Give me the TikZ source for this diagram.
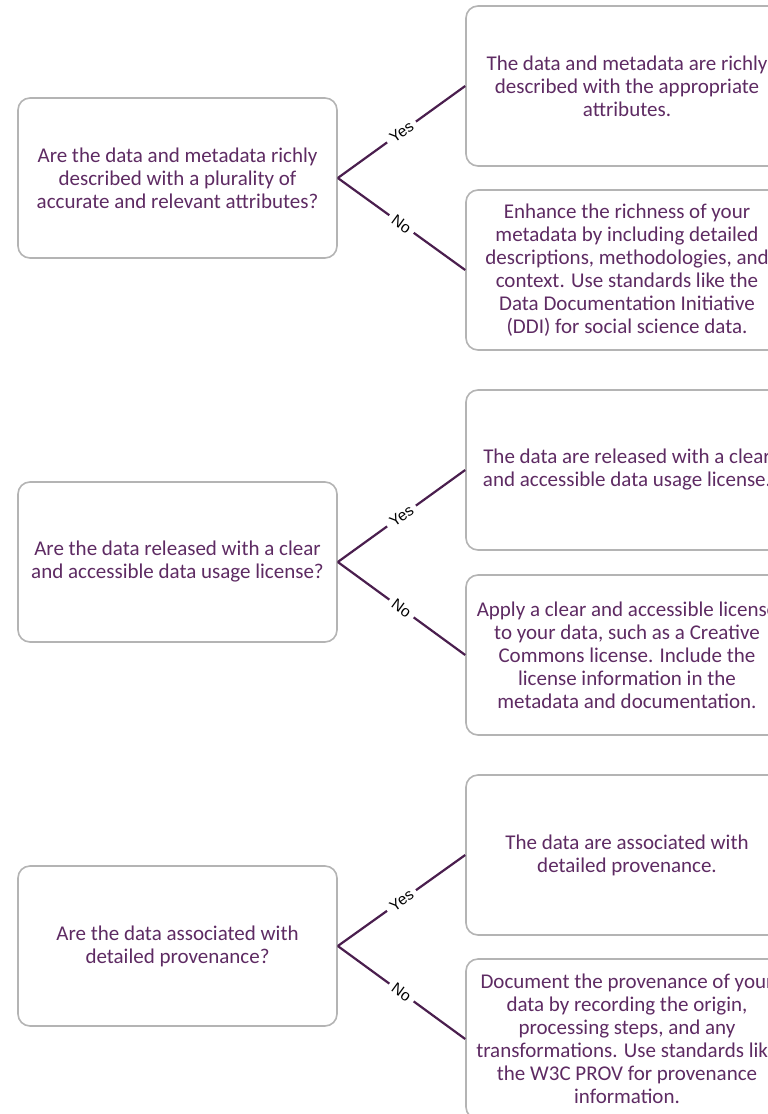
\documentclass[tikz,border=0pt]{standalone}
\usepackage{fontspec}
\setmainfont{Carlito}
\newfontfamily\lblfont{Liberation Sans}
\definecolor{txtpurple}{HTML}{5E2B63}
\definecolor{linepurple}{HTML}{4A1E4E}
\definecolor{boxgray}{HTML}{B4B4B4}
\tikzset{
  box/.style={draw=boxgray, line width=1.6pt, rounded corners=12pt, fill=white,
    text=txtpurple, align=center, inner sep=0pt,
    font=\fontsize{21}{23}\selectfont},
  qbox/.style={box, minimum width=319pt, minimum height=160pt},
  abox/.style={box, minimum width=322pt, minimum height=160pt},
  conn/.style={draw=linepurple, line width=2.2pt},
  lbl/.style={fill=white, text=black, inner xsep=5pt, inner ysep=1pt, sloped,
    font=\lblfont\fontsize{15.5}{17}\selectfont}
}
\begin{document}
\begin{tikzpicture}[x=1pt,y=-1pt]
\useasboundingbox (0,0) rectangle (768,1114);
\clip (0,0) rectangle (768,1114);
\fill[white] (0,0) rectangle (768,1114);

% Row 1
\node[qbox] (q1) at (177.5,178) {Are the data and metadata richly\\described with a plurality of\\accurate and relevant attributes?};
\node[abox] (y1) at (627,86) {The data and metadata are richly\\described with the appropriate\\attributes.};
\node[abox] (n1) at (627,270) {Enhance the richness of your\\metadata by including detailed\\descriptions, methodologies, and\\context. Use standards like the\\Data Documentation Initiative\\(DDI) for social science data.};
\draw[conn] (q1.east) -- node[lbl] {Yes} (y1.west);
\draw[conn] (q1.east) -- node[lbl] {No} (n1.west);

% Row 2
\node[qbox] (q2) at (177.5,562) {Are the data released with a clear\\and accessible data usage license?};
\node[abox] (y2) at (627,470) {The data are released with a clear\\and accessible data usage license.};
\node[abox] (n2) at (627,655) {Apply a clear and accessible license\\to your data, such as a Creative\\Commons license. Include the\\license information in the\\metadata and documentation.};
\draw[conn] (q2.east) -- node[lbl] {Yes} (y2.west);
\draw[conn] (q2.east) -- node[lbl] {No} (n2.west);

% Row 3
\node[qbox] (q3) at (177.5,946) {Are the data associated with\\detailed provenance?};
\node[abox] (y3) at (627,855) {The data are associated with\\detailed provenance.};
\node[abox] (n3) at (627,1039) {Document the provenance of your\\data by recording the origin,\\processing steps, and any\\transformations. Use standards like\\the W3C PROV for provenance\\information.};
\draw[conn] (q3.east) -- node[lbl] {Yes} (y3.west);
\draw[conn] (q3.east) -- node[lbl] {No} (n3.west);
\end{tikzpicture}
\end{document}
